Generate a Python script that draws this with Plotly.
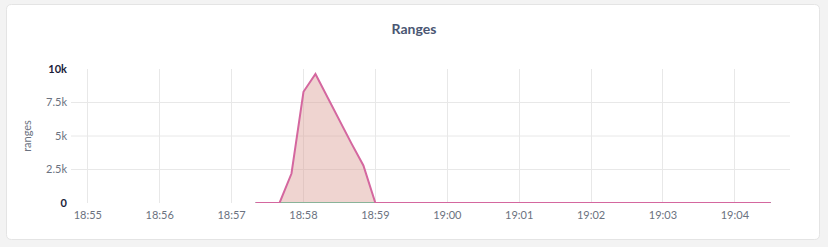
import plotly.graph_objects as go
import pandas as pd

# ---- data ----
times = pd.date_range("2023-01-01 18:57:20", "2023-01-01 19:04:30", freq="10s")
ranges_values = [0, 0, 0, 2200, 8300, 9630, 7900, 6100, 4450, 2800, 0] + [0] * (len(times) - 11)
other_values = [0] * len(times)

y_ticks = [0, 2500, 5000, 7500, 10000]
y_ticktext = ["<b>0</b>", "2.5k", "5k", "7.5k", "<b>10k</b>"]
y_ticktext = [
    '<span style="color:#1b1d3a">%s</span>' % t if t.startswith("<b>") else t
    for t in y_ticktext
]
y_grid = [2500, 5000, 7500]

W, H = 828, 247
ML, MR, MT, MB = 71, 38, 69, 44

fig = go.Figure()

# card background (rounded rect) in paper coords
pw = W - ML - MR
ph = H - MT - MB
def px(x):
    return (x - ML) / pw
def py(y):
    return (H - MB - y) / ph
x0, x1, y0, y1, r = 6.5, 819.5, 4.5, 239.5, 5
path = (
    f"M {px(x0 + r)} {py(y0)} L {px(x1 - r)} {py(y0)} Q {px(x1)} {py(y0)} {px(x1)} {py(y0 + r)} "
    f"L {px(x1)} {py(y1 - r)} Q {px(x1)} {py(y1)} {px(x1 - r)} {py(y1)} "
    f"L {px(x0 + r)} {py(y1)} Q {px(x0)} {py(y1)} {px(x0)} {py(y1 - r)} "
    f"L {px(x0)} {py(y0 + r)} Q {px(x0)} {py(y0)} {px(x0 + r)} {py(y0)} Z"
)
fig.add_shape(type="path", path=path, xref="paper", yref="paper",
              fillcolor="white", line=dict(color="#e4e4e4", width=1), layer="below")
for g in y_grid:
    fig.add_shape(type="line", xref="paper", yref="y", x0=0, x1=1, y0=g, y1=g,
                  line=dict(color="#e8e8e8", width=1), layer="below")

fig.add_trace(go.Scatter(
    x=times, y=other_values, mode="lines",
    line=dict(color="#45c39b", width=2), hoverinfo="skip", showlegend=False,
))
fig.add_trace(go.Scatter(
    x=times, y=ranges_values, mode="lines", fill="tozeroy",
    fillcolor="rgba(220,160,150,0.45)",
    line=dict(color="#d4679f", width=2), showlegend=False,
))

fig.update_layout(
    width=W, height=H,
    margin=dict(l=ML, r=MR, t=MT, b=MB),
    paper_bgcolor="#f3f3f3", plot_bgcolor="rgba(0,0,0,0)",
    font=dict(family="Lato", size=11, color="#6b7280"),
    title=dict(text="<b>Ranges</b>", x=0.5, xref="container", xanchor="center",
               y=1 - 29 / H, yanchor="middle",
               font=dict(family="Lato", size=14, color="#4a5672")),
    xaxis=dict(
        type="date",
        range=["2023-01-01 18:54:46", "2023-01-01 19:04:46"],
        tickformat="%H:%M", dtick=60000,
        showgrid=True, gridcolor="#e8e8e8", gridwidth=1,
        zeroline=False, showline=False, ticks="",
        tickfont=dict(size=11, color="#6b7280"),
        ticklabelstandoff=4,
    ),
    yaxis=dict(
        range=[0, 10000], tickvals=y_ticks, ticktext=y_ticktext,
        showgrid=False,
        zeroline=False, showline=False, ticks="",
        tickfont=dict(size=11, color="#6b7280"),
        ticklabelstandoff=3,
        title=dict(text="ranges", font=dict(size=11, color="#6b7280"), standoff=12),
    ),
)

fig.write_html("out.html")
